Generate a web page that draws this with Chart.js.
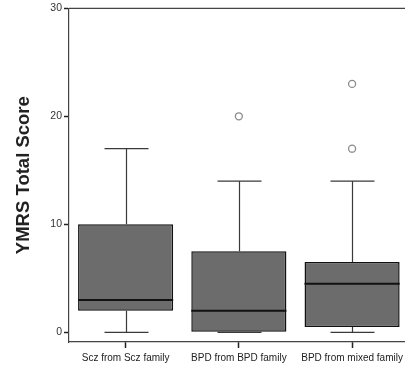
<!DOCTYPE html>
<html>
<head>
<meta charset="utf-8">
<script src="https://cdn.jsdelivr.net/npm/chart.js@4"></script>
<style>
  html, body { margin:0; padding:0; background:#fff; overflow:hidden; }
  #box { display:block; }
</style>
</head>
<body>
<canvas id="box" width="414" height="370"></canvas>
<script>
const groups = ['Scz from Scz family', 'BPD from BPD family', 'BPD from mixed family'];
const whiskerLow  = [0, 0, 0];
const quartile1   = [2, 0, 0.5];
const medians     = [3, 2, 4.5];
const quartile3   = [10, 7.5, 6.5];
const whiskerHigh = [17, 14, 14];
const outlierGroup = ['BPD from BPD family', 'BPD from mixed family', 'BPD from mixed family'];
const outlierScore = [20, 23, 17];
const yTicks = [0, 10, 20, 30];

// whiskers, caps and median lines drawn through the scales
const boxLines = {
  id: 'boxLines',
  beforeDatasetsDraw(chart) {
    const {ctx, scales:{x, y}} = chart;
    ctx.save();
    ctx.strokeStyle = '#3a3a3a';
    ctx.lineWidth = 1.2;
    groups.forEach((g, i) => {
      const cx = Math.round(x.getPixelForValue(i)) + 0.5;
      const capHalf = 22;
      const lo = y.getPixelForValue(whiskerLow[i]), hi = y.getPixelForValue(whiskerHigh[i]);
      const q1 = y.getPixelForValue(quartile1[i]), q3 = y.getPixelForValue(quartile3[i]);
      ctx.beginPath();
      ctx.moveTo(cx, hi); ctx.lineTo(cx, q3);
      ctx.moveTo(cx, q1); ctx.lineTo(cx, lo);
      ctx.moveTo(cx - capHalf, hi); ctx.lineTo(cx + capHalf, hi);
      ctx.moveTo(cx - capHalf, lo); ctx.lineTo(cx + capHalf, lo);
      ctx.stroke();
    });
    ctx.restore();
  },
  afterDatasetsDraw(chart) {
    const {ctx, scales:{y}, chartArea} = chart;
    const bars = chart.getDatasetMeta(0).data;
    ctx.save();
    ctx.strokeStyle = '#111';
    ctx.lineWidth = 2;
    bars.forEach((bar, i) => {
      const my = y.getPixelForValue(medians[i]);
      ctx.beginPath();
      ctx.moveTo(bar.x - bar.width / 2, my);
      ctx.lineTo(bar.x + bar.width / 2, my);
      ctx.stroke();
    });
    // frame line along the top
    ctx.strokeStyle = '#444';
    ctx.lineWidth = 1.3;
    ctx.beginPath();
    ctx.moveTo(chartArea.left, chartArea.top);
    ctx.lineTo(chartArea.right + 2, chartArea.top);
    ctx.stroke();
    ctx.restore();
  }
};

new Chart(document.getElementById('box').getContext('2d'), {
  type: 'bar',
  data: {
    labels: groups,
    datasets: [{
      label: 'IQR',
      data: groups.map((g, i) => [quartile1[i], quartile3[i]]),
      backgroundColor: '#6c6c6c',
      borderColor: '#111',
      borderWidth: 1.5,
      borderSkipped: false,
      categoryPercentage: 1,
      barPercentage: 0.84
    }, {
      type: 'scatter',
      label: 'Outliers',
      data: outlierGroup.map((g, i) => ({x: g, y: outlierScore[i]})),
      pointStyle: 'circle',
      pointRadius: 3.5,
      backgroundColor: '#fff',
      borderColor: '#8a8a8a',
      borderWidth: 1.3
    }]
  },
  options: {
    responsive: false,
    animation: false,
    layout: { padding: { top: 8, right: 2, left: 0, bottom: 0 } },
    plugins: { legend: { display: false }, tooltip: { enabled: false } },
    scales: {
      x: {
        offset: true,
        grid: { offset: false, drawOnChartArea: false, tickLength: 6, color: '#222', tickWidth: 1.5 },
        border: { display: true, color: '#444', width: 1.2 },
        ticks: { color: '#222', font: { family: 'Liberation Sans', size: 10 }, padding: 4, maxRotation: 0, autoSkip: false },
        afterFit(scale) { scale.height = 28; }
      },
      y: {
        min: -0.9,
        max: 30,
        afterBuildTicks(scale) { scale.ticks = yTicks.map(v => ({value: v})); },
        grid: { drawOnChartArea: false, tickLength: 5, color: '#222', tickWidth: 1.5 },
        border: { display: true, color: '#444', width: 1.2 },
        ticks: { color: '#333', font: { family: 'Liberation Sans', size: 10.5 }, padding: 2 },
        title: {
          display: true,
          text: 'YMRS Total Score',
          color: '#222',
          font: { family: 'Liberation Sans', size: 18.5, weight: 'bold' },
          padding: { top: 13, bottom: 0 }
        },
        afterFit(scale) { scale.width = 69; }
      }
    }
  },
  plugins: [boxLines]
});
</script>
</body>
</html>
